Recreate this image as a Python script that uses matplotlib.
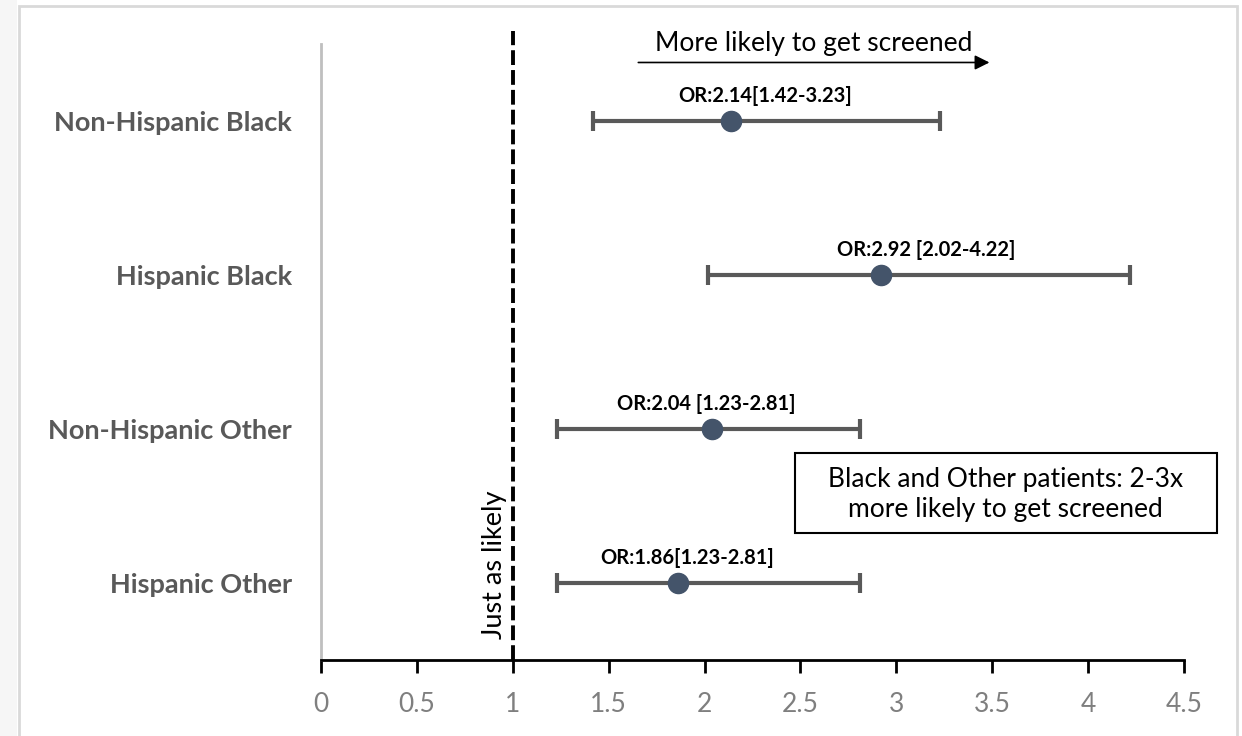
import matplotlib.pyplot as plt
from matplotlib.patches import Rectangle

# 数据
groups = ['Non-Hispanic Black', 'Hispanic Black', 'Non-Hispanic Other', 'Hispanic Other']
odds = [2.14, 2.92, 2.04, 1.86]
lower = [1.42, 2.02, 1.23, 1.23]
upper = [3.23, 4.22, 2.81, 2.81]
labels = ['OR:2.14[1.42-3.23]', 'OR:2.92 [2.02-4.22]', 'OR:2.04 [1.23-2.81]', 'OR:1.86[1.23-2.81]']
label_dx = [0.175, 0.235, -0.033, 0.05]

plt.rcParams['font.family'] = ['Lato', 'DejaVu Sans']

fig = plt.figure(figsize=(12.42, 7.36), dpi=100)
fig.patch.set_facecolor('white')
# 外框
fig.patches.append(Rectangle((19/1242, -0.01), 1218/1242, 1 - 6/736 + 0.01, transform=fig.transFigure,
                             fill=False, edgecolor='#d9d9d9', lw=2))
fig.patches.append(Rectangle((0, 0), 17/1242, 1, transform=fig.transFigure,
                             facecolor='#f6f6f6', edgecolor='none'))

ax = fig.add_axes([321/1242, 76/736, 863/1242, 616/736])
ypos = [3.5, 2.5, 1.5, 0.5]

xerr = [[o - l for o, l in zip(odds, lower)], [u - o for o, u in zip(odds, upper)]]
ax.errorbar(odds, ypos, xerr=xerr, fmt='o', color='#44546a', ms=14.5,
            ecolor='#595959', elinewidth=3, capsize=7, capthick=3, zorder=3)

for x, y, t, dx in zip(odds, ypos, labels, label_dx):
    ax.text(x + dx, y + 0.165, t, ha='center', va='center', fontsize=14.5, fontweight='bold', color='black')

ax.axvline(1, ymin=0, ymax=(660 - 31) / 616, color='black', lw=2.8, ls=(0, (3.8, 1.3)), clip_on=False, zorder=2)
ax.text(0.905, 0.62, 'Just as likely', rotation=90, ha='center', va='center', fontsize=19.5, color='black')

ax.annotate('', xy=(3.5, 3.88), xytext=(1.64, 3.88),
            arrowprops=dict(arrowstyle='-|>', color='black', lw=1.2, mutation_scale=22), annotation_clip=False)
ax.text(2.57, 3.925, 'More likely to get screened', ha='center', va='bottom', fontsize=19, color='black')

# 文本框
ax.add_patch(Rectangle((2.471, 0.825), 2.2, 0.519, facecolor='white', edgecolor='black', lw=1.5,
                       clip_on=False, zorder=4))
ax.text(3.57, 1.075, 'Black and Other patients: 2-3x\nmore likely to get screened', ha='center', va='center',
        fontsize=19, color='black', linespacing=1.25, zorder=5)

ax.set_xlim(0, 4.5)
ax.set_ylim(0, 4)
ax.set_xticks([0, 0.5, 1, 1.5, 2, 2.5, 3, 3.5, 4, 4.5])
ax.set_xticklabels(['0', '0.5', '1', '1.5', '2', '2.5', '3', '3.5', '4', '4.5'])
ax.tick_params(axis='x', direction='out', length=9, width=2, colors='black', labelcolor='#7f7f7f',
               labelsize=19, pad=14)
ax.set_yticks(ypos)
ax.set_yticklabels(groups, fontsize=19.5, fontweight='bold', color='#595959')
ax.tick_params(axis='y', length=0, pad=21)

ax.spines['top'].set_visible(False)
ax.spines['right'].set_visible(False)
ax.spines['left'].set_color('#bfbfbf')
ax.spines['left'].set_linewidth(2)
ax.spines['bottom'].set_color('black')
ax.spines['bottom'].set_linewidth(2)

plt.savefig('out.png', dpi=100)
